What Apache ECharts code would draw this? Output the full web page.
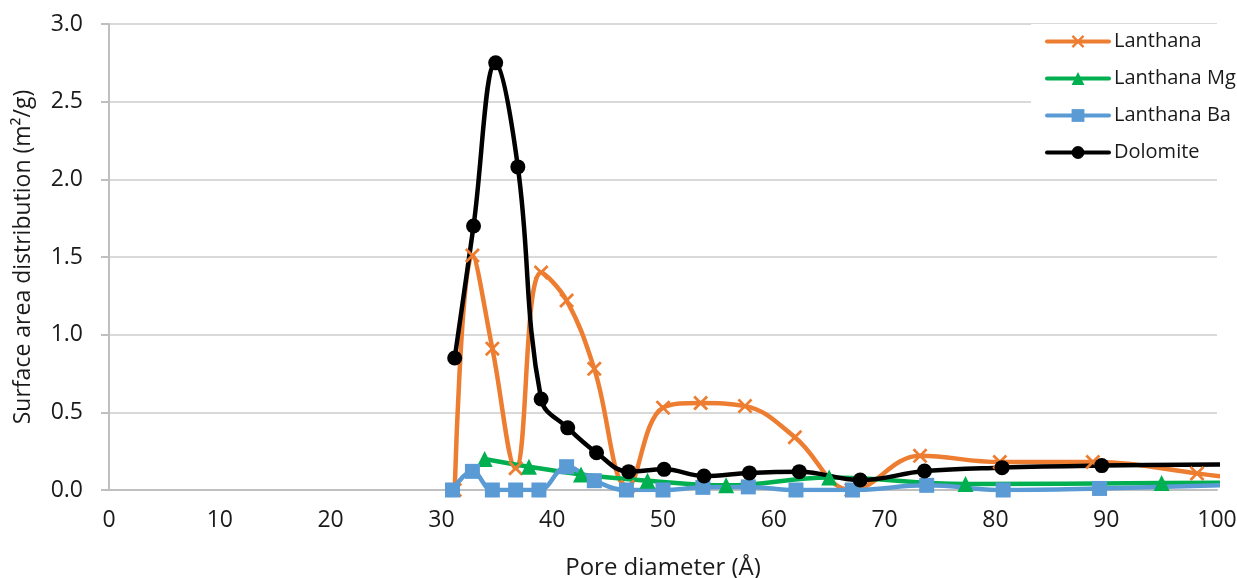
<!DOCTYPE html>
<html>
<head>
<meta charset="utf-8">
<script src="https://cdn.jsdelivr.net/npm/echarts@6/dist/echarts.min.js"></script>
<style>
  html, body { margin: 0; padding: 0; background: #ffffff; }
  #chart { width: 1237px; height: 578px; }
</style>
</head>
<body>
<div id="chart"></div>
<script>
// Pore size distributions (BJH), pore diameter in Å vs surface area in m²/g
const seriesNames = ['Lanthana', 'Lanthana Mg', 'Lanthana Ba', 'Dolomite'];

const lanthanaX = [31.2, 32.8, 34.6, 36.7, 39.0, 41.3, 43.8, 46.8, 50.0, 53.4, 57.4, 61.9, 67.0, 73.2, 80.4, 88.8, 98.2, 109];
const lanthanaY = [0.00, 1.51, 0.91, 0.14, 1.40, 1.22, 0.78, 0.02, 0.53, 0.56, 0.54, 0.34, 0.00, 0.22, 0.18, 0.18, 0.107, 0.00];

const lanthanaMgX = [33.9, 37.9, 42.6, 48.6, 55.7, 65.0, 77.3, 95.0, 112];
const lanthanaMgY = [0.20, 0.15, 0.10, 0.06, 0.03, 0.08, 0.038, 0.045, 0.05];

const lanthanaBaX = [31.0, 32.8, 34.6, 36.7, 38.8, 41.3, 43.8, 46.7, 50.0, 53.6, 57.7, 62.0, 67.1, 73.8, 80.7, 89.4, 103];
const lanthanaBaY = [0.00, 0.12, 0.00, 0.00, 0.00, 0.15, 0.06, 0.00, 0.00, 0.017, 0.02, 0.00, 0.00, 0.03, 0.00, 0.01, 0.035];

const dolomiteX = [31.2, 32.9, 34.9, 36.9, 39.0, 41.4, 44.0, 46.9, 50.1, 53.7, 57.8, 62.3, 67.8, 73.6, 80.6, 89.6, 102];
const dolomiteY = [0.85, 1.70, 2.75, 2.08, 0.586, 0.40, 0.24, 0.118, 0.133, 0.09, 0.11, 0.118, 0.064, 0.122, 0.144, 0.157, 0.166];

const xMin = 0, xMax = 100, xStep = 10;
const yMin = 0, yMax = 3, yStep = 0.5;

const colors = ['#ED7D31', '#00B050', '#5B9BD5', '#000000'];

// filled "x" cross marker
const crossSymbol = 'path://M0,1.3L1.3,0L5,3.7L8.7,0L10,1.3L6.3,5L10,8.7L8.7,10L5,6.3L1.3,10L0,8.7L3.7,5Z';

const FONT = '"Open Sans", "Noto Sans", sans-serif';
const TEXT = '#1a1a1a';

function pairs(xs, ys) {
  return xs.map((x, i) => [x, ys[i]]);
}

function lineSeries(name, data, color, symbol, size) {
  return {
    name: name,
    type: 'line',
    data: data,
    smooth: 0.4,
    clip: true,
    symbol: symbol,
    symbolSize: size,
    showAllSymbol: true,
    lineStyle: { color: color, width: 4.5, cap: 'round', join: 'round' },
    itemStyle: { color: color, borderWidth: 0 },
    emphasis: { disabled: true },
    z: 3
  };
}

const chart = echarts.init(document.getElementById('chart'), null, { renderer: 'canvas' });

chart.setOption({
  animation: false,
  backgroundColor: '#ffffff',
  textStyle: { fontFamily: FONT },
  grid: { left: 109, right: 20, top: 24, bottom: 88, containLabel: false, outerBoundsMode: 'none' },
  xAxis: {
    type: 'value',
    min: xMin, max: xMax, interval: xStep,
    name: 'Pore diameter (Å)',
    nameLocation: 'middle',
    nameGap: 66,
    nameTextStyle: { color: TEXT, fontSize: 24, fontFamily: FONT },
    axisLine: { show: true, onZero: false, lineStyle: { color: '#bfbfbf', width: 2 } },
    axisTick: { show: false },
    splitLine: { show: false },
    axisLabel: { color: TEXT, fontSize: 23, fontFamily: FONT, margin: 19 }
  },
  yAxis: {
    type: 'value',
    min: yMin, max: yMax, interval: yStep,
    name: 'Surface area distribution (m²/g)',
    nameLocation: 'middle',
    nameRotate: 90,
    nameGap: 74,
    nameTextStyle: { color: TEXT, fontSize: 23, fontFamily: FONT },
    axisLine: { show: true, lineStyle: { color: '#bfbfbf', width: 2 } },
    axisTick: { show: true, length: 8, lineStyle: { color: '#bfbfbf', width: 2 } },
    splitLine: { show: true, lineStyle: { color: '#d9d9d9', width: 2 } },
    axisLabel: { color: TEXT, fontSize: 23, fontFamily: FONT, margin: 26,
      formatter: v => v.toFixed(1) }
  },
  legend: {
    data: seriesNames,
    orient: 'vertical',
    left: 1031,
    top: 24,
    padding: [7, 0, 6, 14],
    backgroundColor: '#ffffff',
    itemWidth: 62,
    itemHeight: 16,
    itemGap: 16,
    lineStyle: { width: 4 },
    textStyle: { color: TEXT, fontSize: 20, fontFamily: FONT, lineHeight: 21 },
    z: 10
  },
  series: [
    lineSeries(seriesNames[0], pairs(lanthanaX, lanthanaY), colors[0], crossSymbol, 15),
    lineSeries(seriesNames[1], pairs(lanthanaMgX, lanthanaMgY), colors[1], 'triangle', 16),
    lineSeries(seriesNames[2], pairs(lanthanaBaX, lanthanaBaY), colors[2], 'rect', 15),
    lineSeries(seriesNames[3], pairs(dolomiteX, dolomiteY), colors[3], 'circle', 15)
  ]
});
</script>
</body>
</html>
